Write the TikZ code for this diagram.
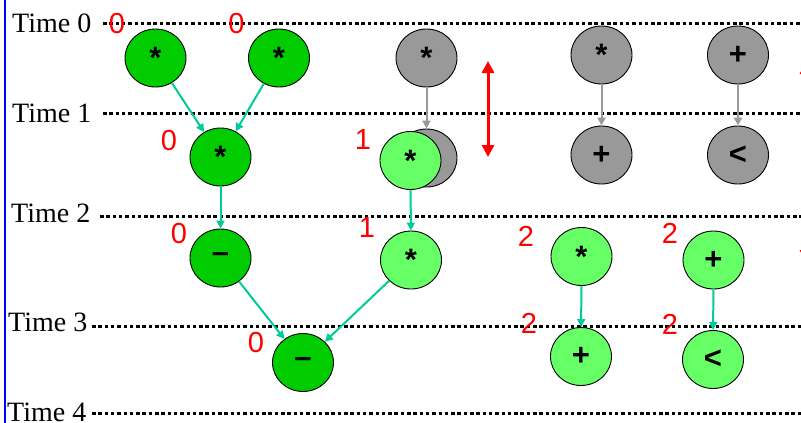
\documentclass[tikz,border=0pt]{standalone}
\usepackage{fontspec}
\setmainfont{Liberation Serif}
\setsansfont{Liberation Sans}
\usetikzlibrary{shapes.geometric,arrows.meta}
\definecolor{opdark}{RGB}{0,204,0}
\definecolor{oplight}{RGB}{102,255,102}
\definecolor{opgray}{RGB}{153,153,153}
\definecolor{flow}{RGB}{0,204,153}
\tikzset{
  op/.style={ellipse, draw=black, line width=0.9pt, minimum width=61pt,
    minimum height=58pt, inner sep=0pt,
    font=\sffamily\bfseries\fontsize{31}{31}\selectfont},
  early/.style={op, fill=opdark},
  late/.style={op, fill=oplight},
  idle/.style={op, fill=opgray},
  timeline/.style={line width=3pt, dash pattern=on 3.5pt off 2.8pt},
  timelabel/.style={anchor=base west, inner sep=0pt,
    font=\fontsize{28}{28}\selectfont},
  slack/.style={text=red, inner sep=0pt,
    font=\sffamily\fontsize{29}{29}\selectfont},
  dep/.style={draw=flow, line width=2pt, -{Triangle[length=8pt,width=8pt]}},
  gdep/.style={draw=opgray, line width=2pt, -{Triangle[length=8pt,width=8pt]}},
  moverange/.style={draw=red, line width=3pt,
    {Triangle[length=12pt,width=12pt]}-{Triangle[length=12pt,width=12pt]}},
}
\begin{document}
\begin{tikzpicture}[x=1pt,y=-1pt]
\useasboundingbox (0,0) rectangle (801,423);
\clip (0,0) rectangle (801,423);

% left frame edge
\draw[blue, line width=2pt] (5,0) -- (5,423);

% time steps
\node[timelabel] (t0) at (12,32) {Time 0};
\node[timelabel] (t1) at (12,122) {Time 1};
\node[timelabel] (t2) at (11,222) {Time 2};
\node[timelabel] (t3) at (8,331) {Time 3};
\node[timelabel] (t4) at (7,421) {Time 4};
\draw[timeline] (103,23) -- (801,23);
\draw[timeline] (103,113) -- (801,113);
\draw[timeline] (100,216) -- (801,216);
\draw[timeline] (92,326) -- (801,326);
\draw[timeline] (92,413) -- (801,413);

% scheduled operations
\node[early] (a1) at (155.5,58) {*};
\node[early] (a2) at (279,58) {*};
\node[early] (a3) at (220.5,157) {*};
\node[early] (a4) at (220.5,258) {–};
\node[early] (a5) at (303,362.5) {–};

\node[idle] (g1) at (426.5,58) {*};
\node[idle] (g2) at (426.5,158) {};
\node[late] (l1) at (410.5,160.5) {*};
\node[late] (l2) at (411,260) {*};

\node[idle] (g3) at (601.5,55) {*};
\node[idle] (g4) at (601.5,155) {+};
\node[idle] (g5) at (738,55) {+};
\node[idle] (g6) at (738,155) {<};

\node[late] (r1) at (581.5,256.5) {*};
\node[late] (r2) at (581,356.5) {+};
\node[late] (r3) at (713.5,260) {+};
\node[late] (r4) at (713,359.5) {<};

% data dependences
\draw[dep] (a1) -- (a3);
\draw[dep] (a2) -- (a3);
\draw[dep] (a3) -- (a4);
\draw[dep] (a4) -- (a5);
\draw[dep] (l2) -- (a5);
\draw[dep] (l1) -- (l2);
\draw[dep] (r1) -- (r2);
\draw[dep] (r3) -- (r4);
\draw[gdep] (g1) -- (g2);
\draw[gdep] (g3) -- (g4);
\draw[gdep] (g5) -- (g6);

% mobility ranges
\coordinate (m1) at (488,61);
\coordinate (m2) at (488,157);
\draw[moverange] (m1) -- (m2);
\coordinate (m3) at (806,62);
\coordinate (m4) at (806,262);
\draw[moverange] (m3) -- (m4);

% slack values
\node[slack] (s1) at (117,24) {0};
\node[slack] (s2) at (236.5,24) {0};
\node[slack] (s3) at (169,141) {0};
\node[slack] (s4) at (363,140) {1};
\node[slack] (s5) at (179,234) {0};
\node[slack] (s6) at (367,228) {1};
\node[slack] (s7) at (526,236) {2};
\node[slack] (s8) at (670,233) {2};
\node[slack] (s9) at (256,343) {0};
\node[slack] (s10) at (529,323) {2};
\node[slack] (s11) at (670,324) {2};
\end{tikzpicture}
\end{document}
